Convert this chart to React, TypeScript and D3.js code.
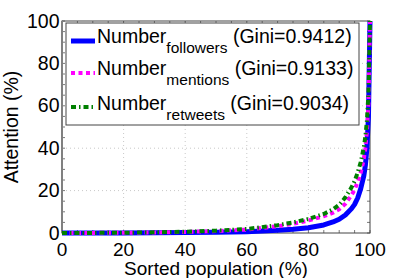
import * as React from 'react';
import * as d3 from 'd3';

// sorted population (%) sample positions
const population = [0, 10, 20, 30, 40, 50, 60, 70, 75, 80, 85, 88, 90, 92, 94, 95, 96, 97, 98, 98.5, 99, 99.5, 100];
const followers = [0, 0.02, 0.05, 0.1, 0.2, 0.35, 0.6, 1.3, 1.8, 2.5, 3.8, 5.2, 6.5, 8.5, 11.5, 13.5, 16.5, 21, 27, 32, 40, 55, 100];
const mentions = [0, 0.05, 0.1, 0.25, 0.5, 0.9, 1.6, 3.2, 4.3, 5.9, 7.9, 9.6, 11.2, 13.8, 17.8, 20.5, 24, 28.5, 35, 40, 48, 61, 100];
const retweets = [0, 0.05, 0.1, 0.3, 0.6, 1.1, 1.9, 3.7, 5, 6.6, 9, 11.2, 13.3, 16.8, 21.5, 24.5, 28.5, 33.5, 40.5, 45.5, 53, 66, 100];

const seriesNames = ['followers', 'mentions', 'retweets'];
const giniValues = ['0.9412', '0.9133', '0.9034'];
const xTicks = [0, 20, 40, 60, 80, 100];
const yTicks = [0, 20, 40, 60, 80, 100];

const styles = [
	{ color: '#0000ff', width: 5, dash: null },
	{ color: '#ff00ff', width: 4, dash: '4 3.5' },
	{ color: '#008000', width: 4, dash: '5 3 1.5 3' },
];

const font = "'Liberation Sans', Arial, Helvetica, sans-serif";

export default function App() {
	const W = 409;
	const H = 278;
	const left = 62;
	const right = 370;
	const top = 21;
	const bottom = 233;

	const x = d3.scaleLinear().domain([0, 100]).range([left, right]);
	const y = d3.scaleLinear().domain([0, 100]).range([bottom, top]);

	const data = [followers, mentions, retweets];
	const line = d3
		.line<number>()
		.x((_, i) => x(population[i]))
		.y(d => y(d));

	const minor = d3.range(0, 101, 5);

	return (
		<svg width={W} height={H} style={{ position: 'absolute', left: 0, top: 0 }} fontFamily={font}>
			<rect width={W} height={H} fill='#fff' />
			{/* grid */}
			{xTicks.slice(1, -1).map(t => (
				<line key={'gx' + t} x1={x(t)} x2={x(t)} y1={top} y2={bottom} stroke='#c8c8c8' strokeDasharray='1 3' />
			))}
			{yTicks.slice(1, -1).map(t => (
				<line key={'gy' + t} x1={left} x2={right} y1={y(t)} y2={y(t)} stroke='#c8c8c8' strokeDasharray='1 3' />
			))}
			{/* minor + major ticks */}
			{minor.map(t => (
				<g key={'t' + t} stroke='#555' strokeWidth={0.8}>
					<line x1={x(t)} x2={x(t)} y1={top} y2={top + 3} />
					<line x1={x(t)} x2={x(t)} y1={bottom} y2={bottom - 3} />
					<line x1={left} x2={left + 3} y1={y(t)} y2={y(t)} />
					<line x1={right} x2={right - 3} y1={y(t)} y2={y(t)} />
				</g>
			))}
			{/* box */}
			<rect x={left} y={top} width={right - left} height={bottom - top} fill='none' stroke='#444' strokeWidth={1} />
			<line x1={left} x2={left} y1={top} y2={bottom} stroke='#808080' strokeWidth={2} />
			{/* curves */}
			{data.map((d, i) => (
				<path
					key={i}
					d={line(d) || ''}
					fill='none'
					stroke={styles[i].color}
					strokeWidth={styles[i].width}
					strokeDasharray={styles[i].dash || undefined}
					strokeLinejoin='round'
				/>
			))}
			{/* tick labels */}
			{xTicks.map(t => (
				<text key={'xl' + t} x={x(t)} y={255.5} textAnchor='middle' fontSize={19}>
					{t}
				</text>
			))}
			{yTicks.map(t => (
				<text key={'yl' + t} x={left - 2.5} y={y(t) + 6.5} textAnchor='end' fontSize={19.5}>
					{t}
				</text>
			))}
			<text x={(left + right) / 2} y={275} textAnchor='middle' fontSize={19}>
				Sorted population (%)
			</text>
			<text transform={`translate(18 ${(top + bottom) / 2}) rotate(-90)`} textAnchor='middle' fontSize={19.5}>
				Attention (%)
			</text>
			{/* legend */}
			<rect x={66} y={23} width={293} height={102} fill='#fff' stroke='#444' strokeWidth={1} />
			{seriesNames.map((name, i) => {
				const ly = [41, 73, 107][i];
				const base = [43, 75, 110][i];
				return (
					<g key={name}>
						<line
							x1={71}
							x2={95}
							y1={ly}
							y2={ly}
							stroke={styles[i].color}
							strokeWidth={styles[i].width}
							strokeDasharray={styles[i].dash || undefined}
						/>
						<text x={97} y={base} fontSize={19.5}>
							Number
							<tspan fontSize={15.5} dy={10}>
								{name}
							</tspan>
							<tspan dy={-10}> (Gini={giniValues[i]})</tspan>
						</text>
					</g>
				);
			})}
		</svg>
	);
}
